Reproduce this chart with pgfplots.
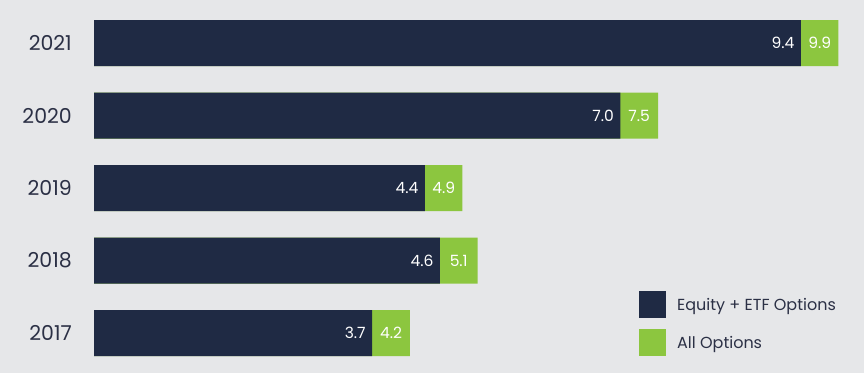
\documentclass[border=0pt]{standalone}
\usepackage{fontspec}
\setmainfont{Poppins}
\usepackage{pgfplots}
\usepackage{pgfplotstable}
\pgfplotsset{compat=1.18}
\definecolor{navy}{HTML}{1F2A44}
\definecolor{lgreen}{HTML}{8CC63F}
\definecolor{bg}{HTML}{E6E7E9}
\definecolor{txt}{HTML}{2B3045}
\pgfplotstableread{
y dark total dlab tlab
0 3.7 4.2 3.7 4.2
1 4.6 5.1 4.6 5.1
2 4.4 4.9 4.4 4.9
3 7.0 7.5 7.0 7.5
4 9.4 9.9 9.4 9.9
}\datatable
\begin{document}
\begin{tikzpicture}
\fill[bg] (0pt,0pt) rectangle (864pt,373pt);
\useasboundingbox (0pt,0pt) rectangle (864pt,373pt);
\begin{axis}[
  at={(94pt,3.75pt)}, anchor=south west,
  scale only axis, width=752pt, height=362.5pt,
  xmin=0, xmax=10, ymin=-0.5, ymax=4.5,
  xbar, bar width=46pt,
  axis line style={draw=none},
  major tick length=0pt,
  xtick=\empty,
  ytick={0,1,2,3,4},
  yticklabels={2017,2018,2019,2020,2021},
  yticklabel style={font=\fontsize{20.5}{24}\selectfont, text=txt, inner sep=0pt, anchor=east, xshift=-22pt},
  clip=false,
  reverse legend,
  legend style={at={(rel axis cs:0.7247,0.2159)}, anchor=north west, draw=none, fill=none,
    font=\fontsize{16}{19}\selectfont, text=txt, row sep=11pt, column sep=9pt, inner sep=0pt},
  legend cell align=left,
]
\addplot[fill=lgreen, draw=none, bar shift=0pt, point meta=explicit symbolic, nodes near coords,
  every node near coord/.append style={anchor=center, text=white, font=\fontsize{15.5}{18}\selectfont, xshift=-18.8pt},
  legend image code/.code={\fill[lgreen] (0pt,-13.5pt) rectangle (27pt,13.5pt);}]
  table[x=total, y=y, meta=tlab]{\datatable};
\addlegendentry{All Options}
\addplot[fill=navy, draw=none, bar shift=0pt, point meta=explicit symbolic, nodes near coords,
  every node near coord/.append style={anchor=east, text=white, font=\fontsize{15.5}{18}\selectfont, xshift=-3pt},
  legend image code/.code={\fill[navy] (0pt,-13.5pt) rectangle (27pt,13.5pt);}]
  table[x=dark, y=y, meta=dlab]{\datatable};
\addlegendentry{Equity + ETF Options}
\end{axis}
\end{tikzpicture}
\end{document}
